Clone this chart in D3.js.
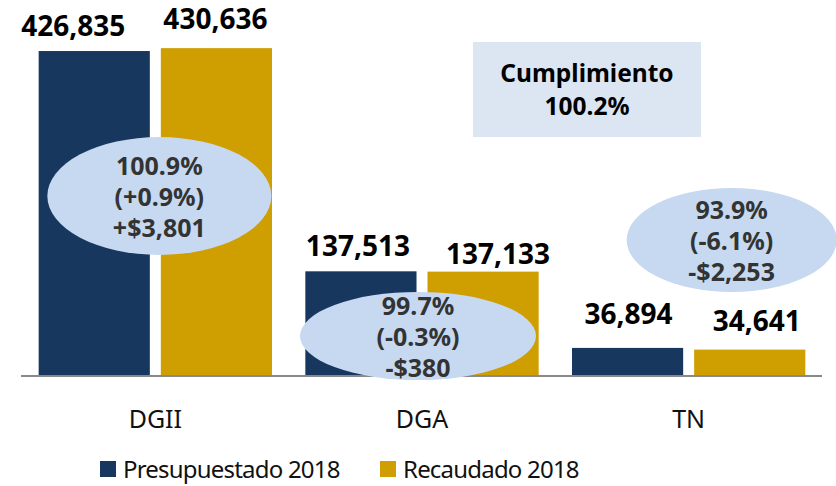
<html>
<head>
	<meta charset="utf-8">
	<script src="https://d3js.org/d3.v7.min.js"></script>
	<style>
		* { margin: 0px; padding: 0px; }
		body { background: #ffffff; }
		text { font-family: "Noto Sans", "Open Sans", sans-serif; }
	</style>
</head>
<body>
	<svg id="chart" width="836" height="486"></svg>

	<script>
	// data
	var categories = ["DGII", "DGA", "TN"];
	var seriesNames = ["Presupuestado 2018", "Recaudado 2018"];
	var presupuestado = [426835, 137513, 36894];
	var recaudado = [430636, 137133, 34641];

	var colors = ["#17375e", "#cf9e00"];

	// where the bubbles sit, relative to the group centre (layout only)
	var bubbleLayout = [
		{ dx: 4, cy: 196, rx: 112, ry: 59 },
		{ dx: -4, cy: 336, rx: 118, ry: 44 },
		{ dx: 43, cy: 240, rx: 105, ry: 52 }
	];
	// hand nudges of the value labels, [category][series] (layout only)
	var labelNudge = [
		[ { dx: -21, gap: 15 }, { dx: -1, gap: 19 } ],
		[ { dx: -3, gap: 15 }, { dx: 15, gap: 8 } ],
		[ { dx: 1, gap: 24 }, { dx: 7, gap: 19 } ]
	];

	var svg = d3.select( "#chart" );
	var fmt = d3.format( ",.0f" );

	var x0 = d3.scaleBand()
		.domain( categories )
		.range( [ 22, 822 ] )
		.paddingInner( 0.125 )
		.paddingOuter( 0.0625 );

	var x1 = d3.scaleBand()
		.domain( seriesNames )
		.range( [ 0, x0.bandwidth() ] )
		.paddingInner( 0.09 );

	var y = d3.scaleLinear()
		.domain( [ 0, 450000 ] )
		.range( [ 376, 33.4 ] );

	var rows = categories.map( function ( c, i ) {
		return { cat: c, i: i, values: [ presupuestado[i], recaudado[i] ] };
	});

	// bars
	var groups = svg.selectAll( "g.group" )
		.data( rows )
		.enter()
		.append( "g" )
		.attr( "class", "group" )
		.attr( "transform", function ( d ) { return "translate(" + x0( d.cat ) + ",0)"; } );

	function cells( d ) {
		return d.values.map( function ( v, j ) { return { v: v, j: j, i: d.i }; } );
	}

	groups.selectAll( "rect" )
		.data( cells )
		.enter()
		.append( "rect" )
		.attr( "x", function ( d ) { return x1( seriesNames[d.j] ); } )
		.attr( "y", function ( d ) { return y( d.v ); } )
		.attr( "width", x1.bandwidth() )
		.attr( "height", function ( d ) { return y( 0 ) - y( d.v ); } )
		.attr( "fill", function ( d ) { return colors[d.j]; } );

	// value labels
	groups.selectAll( "text.value" )
		.data( cells )
		.enter()
		.append( "text" )
		.attr( "class", "value" )
		.attr( "x", function ( d ) { return x1( seriesNames[d.j] ) + x1.bandwidth() / 2 + labelNudge[d.i][d.j].dx; } )
		.attr( "y", function ( d ) { return y( d.v ) - labelNudge[d.i][d.j].gap; } )
		.attr( "text-anchor", "middle" )
		.attr( "font-size", 28 )
		.attr( "font-weight", "bold" )
		.attr( "fill", "#000" )
		.text( function ( d ) { return fmt( d.v ); } );

	// x axis line
	svg.append( "line" )
		.attr( "x1", 21 )
		.attr( "x2", 822 )
		.attr( "y1", y( 0 ) )
		.attr( "y2", y( 0 ) )
		.attr( "stroke", "#888" )
		.attr( "stroke-width", 2 );

	// category labels
	var xAxis = svg.append( "g" )
		.attr( "transform", "translate(0," + y( 0 ) + ")" )
		.call( d3.axisBottom( x0 ).tickSize( 0 ).tickPadding( 34 ) );
	xAxis.select( ".domain" ).remove();
	xAxis.selectAll( "text" )
		.attr( "font-family", "Noto Sans" )
		.attr( "font-size", 25 )
		.attr( "fill", "#111" );

	// bubbles with compliance for each category
	var bubbles = svg.selectAll( "g.bubble" )
		.data( rows )
		.enter()
		.append( "g" )
		.attr( "class", "bubble" );

	bubbles.append( "ellipse" )
		.attr( "cx", function ( d, i ) { return x0( d.cat ) + x0.bandwidth() / 2 + bubbleLayout[i].dx; } )
		.attr( "cy", function ( d, i ) { return bubbleLayout[i].cy; } )
		.attr( "rx", function ( d, i ) { return bubbleLayout[i].rx; } )
		.attr( "ry", function ( d, i ) { return bubbleLayout[i].ry; } )
		.attr( "fill", "#c6d9f1" );

	bubbles.each( function ( d, i ) {
		var ratio = d.values[1] / d.values[0];
		var diff = d.values[1] - d.values[0];
		var sign = diff >= 0 ? "+" : "-";
		var lines = [
			d3.format( ".1f" )( ratio * 100 ) + "%",
			"(" + sign + d3.format( ".1f" )( Math.abs( ratio - 1 ) * 100 ) + "%)",
			sign + "$" + fmt( Math.abs( diff ) )
		];
		var cx = x0( d.cat ) + x0.bandwidth() / 2 + bubbleLayout[i].dx;
		var cy = bubbleLayout[i].cy;
		d3.select( this ).selectAll( "text" )
			.data( lines )
			.enter()
			.append( "text" )
			.attr( "x", cx )
			.attr( "y", function ( t, k ) { return cy - 21 + k * 31; } )
			.attr( "text-anchor", "middle" )
			.attr( "font-size", 25 )
			.attr( "font-weight", "bold" )
			.attr( "fill", "#333" )
			.text( function ( t ) { return t; } );
	});

	// overall compliance box
	var total = d3.sum( recaudado ) / d3.sum( presupuestado );
	svg.append( "rect" )
		.attr( "x", 473 )
		.attr( "y", 42 )
		.attr( "width", 228 )
		.attr( "height", 95 )
		.attr( "fill", "#dce6f2" );
	svg.append( "text" )
		.attr( "x", 587 )
		.attr( "y", 82 )
		.attr( "text-anchor", "middle" )
		.attr( "font-size", 24.5 )
		.attr( "font-weight", "bold" )
		.attr( "fill", "#000" )
		.text( "Cumplimiento" );
	svg.append( "text" )
		.attr( "x", 587 )
		.attr( "y", 115 )
		.attr( "text-anchor", "middle" )
		.attr( "font-size", 24.5 )
		.attr( "font-weight", "bold" )
		.attr( "fill", "#000" )
		.text( d3.format( ".1f" )( total * 100 ) + "%" );

	// legend (kept just inside the bottom edge)
	var legendX = [ 100, 380 ];
	var legend = svg.selectAll( "g.legend" )
		.data( seriesNames )
		.enter()
		.append( "g" )
		.attr( "class", "legend" )
		.attr( "transform", function ( d, i ) { return "translate(" + legendX[i] + ",461)"; } );
	legend.append( "rect" )
		.attr( "width", 16 )
		.attr( "height", 16 )
		.attr( "fill", function ( d, i ) { return colors[i]; } );
	legend.append( "text" )
		.attr( "x", 23 )
		.attr( "y", 17 )
		.attr( "font-size", 24 )
		.attr( "letter-spacing", -0.8 )
		.attr( "fill", "#111" )
		.text( function ( d ) { return d; } );
	</script>
</body>
</html>
